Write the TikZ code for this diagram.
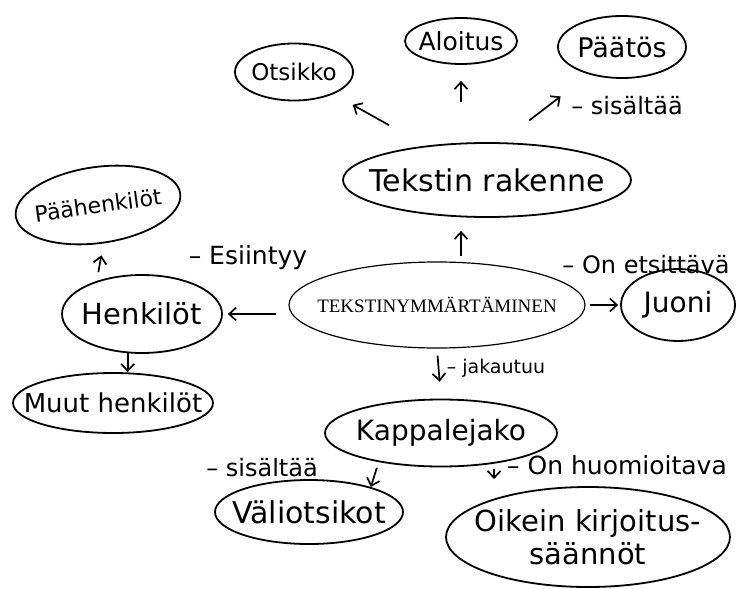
\documentclass[tikz,border=0pt]{standalone}
\usepackage{fontspec}
\usetikzlibrary{shapes.geometric, arrows.meta}
\newfontfamily\handfont{DejaVu Sans}
\newfontfamily\printfont{Liberation Serif}
\newcommand{\hw}[1]{\makebox[0pt]{#1}}

\begin{document}
\begin{tikzpicture}[
    x=1pt, y=-1pt,
    idea/.style={ellipse, draw, line width=1.8pt, inner sep=0pt, align=center, font=\handfont\fontsize{#1}{#1}\selectfont},
    idea/.default=29,
    topic/.style={ellipse, draw, line width=1.2pt, inner sep=0pt, font=\printfont\fontsize{19}{22}\selectfont},
    note/.style={inner sep=0pt, font=\handfont\fontsize{#1}{#1}\selectfont},
    note/.default=24,
    link/.style={-{Straight Barb[length=7pt,width=13pt]}, line width=1.7pt}
]
\useasboundingbox (0,0) rectangle (743,588);

\node[topic, minimum width=296pt, minimum height=86pt] (main) at (437,305) {\hw{TEKSTINYMMÄRTÄMINEN}};
\node[idea=30, minimum width=288pt, minimum height=74pt] (rak) at (487,180) {\hw{Tekstin rakenne}};
\node[idea=23, minimum width=118pt, minimum height=57pt] (ots) at (294,72) {\hw{Otsikko}};
\node[idea=25, minimum width=112pt, minimum height=46pt] (alo) at (461,41) {\hw{Aloitus}};
\node[idea=27, minimum width=128pt, minimum height=62pt] (paa) at (622,47) {\hw{Päätös}};
\node[idea=28, minimum width=114pt, minimum height=72pt] (juo) at (678,305) {\hw{Juoni}};
\node[idea, minimum width=160pt, minimum height=78pt] (henk) at (142,314) {\hw{Henkilöt}};
\node[idea=22, minimum width=166pt, minimum height=76pt, rotate=8] (ph) at (98,205) {\hw{Päähenkilöt}};
\node[idea=26, minimum width=200pt, minimum height=60pt] (muut) at (113,403) {\hw{Muut henkilöt}};
\node[idea=28, minimum width=232pt, minimum height=67pt] (kap) at (441,433) {\hw{Kappalejako}};
\node[idea=30, minimum width=188pt, minimum height=64pt] (vali) at (309,512) {\hw{Väliotsikot}};
\node[idea, minimum width=284pt, minimum height=100pt] (oik) at (588,537) {\hw{Oikein kirjoitus-}\\[4pt]\hw{säännöt}};

% tekstin rakenne
\draw[link, shorten <=42pt, shorten >=22pt] (rak) -- (ots);
\draw[link, shorten <=40pt, shorten >=16pt] (rak.north -| alo) -- (alo.south);
\draw[link, shorten <=36pt, shorten >=36pt] (rak.70) -- (paa.220);
\node[note] (n1) at (627,106) {– sisältää};

% keskus
\draw[link, shorten <=5pt, shorten >=13pt] (main.north -| alo) -- (rak.south -| alo);
\draw[link, shorten <=12pt, shorten >=5pt] (main.west |- henk.east) -- (henk.east);
\draw[link, shorten <=4pt, shorten >=2pt] (main.east) -- (juo.west);
\draw[link, shorten <=7pt, shorten >=17pt] (main.south) -- (kap.north);
\node[note=25] (n2) at (248,258) {– Esiintyy};
\node[note] (n3) at (646,265) {– On etsittävä};
\node[note=19] (n4) at (496,368) {– jakautuu};

% henkilöt
\draw[link, shorten <=2pt, shorten >=12pt] (henk.north -| ph) -- (ph.south);
\draw[link] (henk.250) -- (henk.250 |- muut.north);

% kappalejako
\draw[link, shorten <=6pt] (kap.205) -- (vali.22);
\draw[link, shorten <=5pt, shorten >=7pt] (kap.330) -- (kap.330 |- oik.north);
\node[note] (n5) at (262,468) {– sisältää};
\node[note=25] (n6) at (617,465) {– On huomioitava};
\end{tikzpicture}
\end{document}
